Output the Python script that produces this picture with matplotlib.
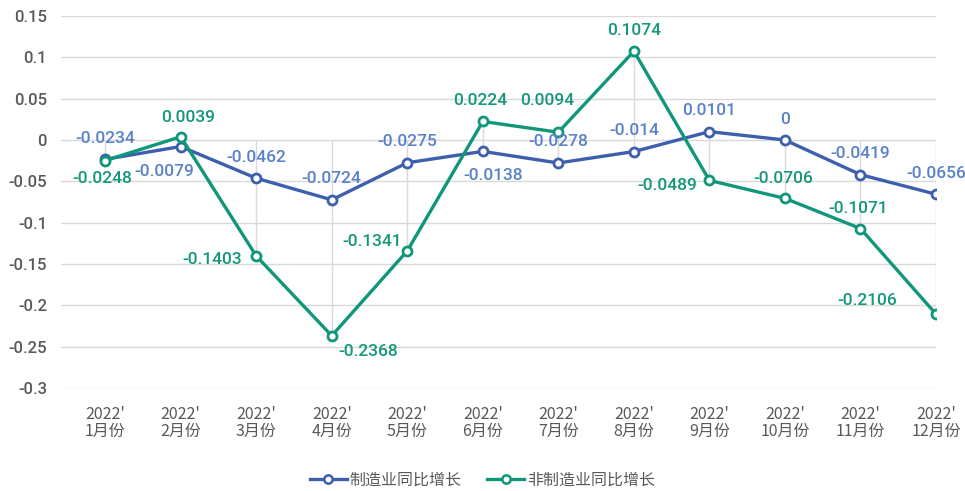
import matplotlib
matplotlib.use("Agg")
import matplotlib.pyplot as plt
from matplotlib.lines import Line2D

months = ["2022'\n1月份", "2022'\n2月份", "2022'\n3月份", "2022'\n4月份", "2022'\n5月份", "2022'\n6月份",
          "2022'\n7月份", "2022'\n8月份", "2022'\n9月份", "2022'\n10月份", "2022'\n11月份", "2022'\n12月份"]
manu = [-0.0234, -0.0079, -0.0462, -0.0724, -0.0275, -0.0138, -0.0278, -0.014, 0.0101, 0, -0.0419, -0.0656]
non_manu = [-0.0248, 0.0039, -0.1403, -0.2368, -0.1341, 0.0224, 0.0094, 0.1074, -0.0489, -0.0706, -0.1071, -0.2106]
series_names = ["制造业同比增长", "非制造业同比增长"]
yticks = [0.15, 0.1, 0.05, 0, -0.05, -0.1, -0.15, -0.2, -0.25, -0.3]
ytick_labels = ["0.15", "0.1", "0.05", "0", "-0.05", "-0.1", "-0.15", "-0.2", "-0.25", "-0.3"]

# label offsets in pixels (dx, dy, ha)
manu_off = [(0, 21, 'center'), (-16, -25, 'center'), (0, 21, 'center'), (0, 21, 'center'),
            (0, 21, 'center'), (10, -24, 'center'), (0, 21, 'center'), (0, 21, 'center'),
            (0, 21, 'center'), (0, 21, 'center'), (0, 21, 'center'), (0, 21, 'center')]
non_off = [(-3, -18, 'center'), (7, 19, 'center'), (-14, -4, 'right'), (36, -16, 'center'),
           (-5, 9, 'right'), (-3, 21, 'center'), (-11, 32, 'center'), (0, 21, 'center'),
           (-12, -5, 'right'), (-2, 20, 'center'), (-2, 20, 'center'), (-39, 14, 'right')]

BLUE_LINE = "#3D5FAD"
BLUE_TXT = "#5A82C8"
GREEN_LINE = "#10977A"
GREEN_TXT = "#14977A"
GRID = "#D9D9D9"
TXT = "#595959"

fig = plt.figure(figsize=(9.65, 4.91), dpi=100)
ax = fig.add_axes([61/965, 1-388/491, (936-61)/965, (388-16)/491])

x = list(range(len(months)))

# drop lines to zero
for xi, a, b in zip(x, manu, non_manu):
    ax.vlines(xi, min(a, b, 0), max(a, b, 0), color=GRID, lw=1, zorder=1)

for yv in yticks:
    ax.axhline(yv, color=GRID, lw=1, zorder=0)

ax.plot(x, manu, color=BLUE_LINE, lw=2.4, marker='o', ms=6.5, mfc='white', mec=BLUE_LINE, mew=2, zorder=3)
ax.plot(x, non_manu, color=GREEN_LINE, lw=2.4, marker='o', ms=6.5, mfc='white', mec=GREEN_LINE, mew=2, zorder=4)

ax.set_xlim(-0.585, 11)
ax.set_ylim(-0.3, 0.15)
ax.set_yticks(yticks)
ax.set_yticklabels(ytick_labels, family=['Roboto', 'DejaVu Sans'], fontsize=12, fontweight='medium', color=TXT)
ax.set_xticks(x)
ax.set_xticklabels(months, family=['Noto Sans CJK SC', 'DejaVu Sans'], fontsize=11.5, color=TXT, linespacing=1.0)
ax.tick_params(axis='both', length=0)
ax.tick_params(axis='y', pad=10)
ax.tick_params(axis='x', pad=13)
for s in ax.spines.values():
    s.set_visible(False)

def fmt(v):
    return "0" if v == 0 else f"{v:g}"

for xi, v, (dx, dy, ha) in zip(x, manu, manu_off):
    ax.annotate(fmt(v), (xi, v), xytext=(dx*0.72, dy*0.72), textcoords='offset points',
                ha=ha, va='center', fontsize=12.5, color=BLUE_TXT, family=['Roboto', 'DejaVu Sans'],
                fontweight='medium', zorder=5)
for xi, v, (dx, dy, ha) in zip(x, non_manu, non_off):
    ax.annotate(fmt(v), (xi, v), xytext=(dx*0.72, dy*0.72), textcoords='offset points',
                ha=ha, va='center', fontsize=12.5, color=GREEN_TXT, family=['Roboto', 'DejaVu Sans'],
                fontweight='medium', zorder=5)

handles = [Line2D([], [], color=BLUE_LINE, lw=2.4, marker='o', ms=6, mfc='white', mec=BLUE_LINE, mew=1.8),
           Line2D([], [], color=GREEN_LINE, lw=2.4, marker='o', ms=6, mfc='white', mec=GREEN_LINE, mew=1.8)]
leg = fig.legend(handles, series_names, loc='center', bbox_to_anchor=(0.5, 1-480/491), ncol=2,
                 frameon=False, handlelength=2.3, handletextpad=0.2, columnspacing=1.6,
                 prop={'family': ['Noto Sans CJK SC', 'DejaVu Sans'], 'size': 11.5})
for t in leg.get_texts():
    t.set_color(TXT)

fig.savefig("out.png", dpi=100)
